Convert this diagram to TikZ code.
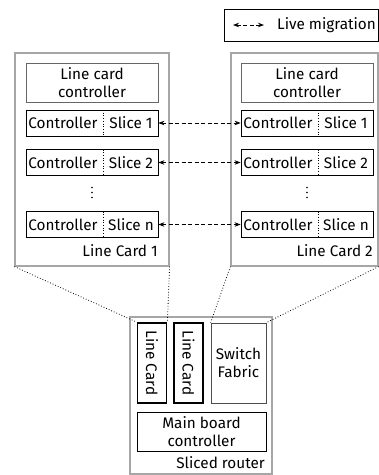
\documentclass[tikz,border=0pt]{standalone}
\usepackage{fontspec}
\setmainfont{Fira Sans}
\usetikzlibrary{arrows.meta}

\tikzset{
  every node/.style={inner sep=0pt, align=center},
  cardbox/.style={draw=black!35, line width=1.2pt},
  ctrlbox/.style={draw=black!60, line width=0.8pt, minimum width=132pt, minimum height=39pt},
  rowbox/.style={draw, line width=0.8pt, minimum width=132pt, minimum height=26pt},
  divider/.style={dotted, line width=0.7pt},
  vcard/.style={draw, line width=1.8pt, rotate=-90, minimum width=80pt, minimum height=29pt},
  zoomline/.style={dotted, line width=0.8pt},
  migrate/.style={dash pattern=on 4pt off 2.5pt, line width=0.9pt, {Stealth[length=6pt,width=4.5pt]}-{Stealth[length=6pt,width=4.5pt]}}
}

\begin{document}
\begin{tikzpicture}[x=1pt, y=-1pt, font=\fontsize{15.3}{18}\selectfont]
    \useasboundingbox (0,0) rectangle (379,475);

    % Legend
    \node[draw, line width=0.8pt, minimum width=154pt, minimum height=32pt] (legend) at (301,25) {};
    \coordinate (lega) at (233,25);
    \coordinate (legb) at (264,25);
    \draw[migrate] (lega) -- (legb);
    \node[anchor=west] (legtxt) at (277,25) {Live migration};

    % Line card boxes
    \node[cardbox, minimum width=154pt, minimum height=213pt] (lc1) at (92,159.5) {};
    \node[cardbox, minimum width=147pt, minimum height=213pt] (lc2) at (304.5,159.5) {};

    \node[ctrlbox] (lcc1) at (92,82.5) {Line card\\controller};
    \node[ctrlbox] (lcc2) at (307,82.5) {Line card\\controller};

    % Controller / slice rows
    \foreach \c/\x in {1/26, 2/241} {
        \foreach \r/\y/\s in {a/123/1, b/162.5/2, c/224.5/n} {
            \node[rowbox] (row\c\r) at (\x+66,\y) {};
            \node (ctl\c\r) at (\x+37,\y) {Controller};
            \node (sl\c\r) at (\x+105,\y) {Slice \s};
            \draw[divider] (\x+77,\y-13) -- (\x+77,\y+13);
        }
        % vertical dots between the rows
        \foreach \d in {187.5,192.5,197.5}
            \fill (\x+66,\d) circle (0.9pt);
    }

    \node[anchor=east] (lc1lbl) at (158,251) {Line Card 1};
    \node[anchor=east] (lc2lbl) at (373,251) {Line Card 2};

    % Migration arrows
    \draw[migrate] (row1a) -- (row2a);
    \draw[migrate] (row1b) -- (row2b);
    \draw[migrate] (row1c) -- (row2c);

    % Sliced router
    \node[cardbox, minimum width=142pt, minimum height=157pt] (router) at (201,395.5) {};
    \node[vcard] (rc1) at (152,363) {Line Card};
    \node[vcard] (rc2) at (188.5,363) {Line Card};
    \node[draw=black!70, line width=0.8pt, minimum width=55pt, minimum height=80pt] (fabric) at (238.5,363) {Switch\\Fabric};
    \node[draw, line width=0.8pt, minimum width=129pt, minimum height=39pt] (mainctl) at (201.5,431.5) {Main board\\controller};
    \node[anchor=east] (rtlbl) at (265,463) {Sliced router};

    % Zoom lines
    \draw[zoomline] (lc1.south west) -- (rc1.south west);
    \draw[zoomline] (lc1.south east) -- (rc1.north west);
    \draw[zoomline] (lc2.south west) -- (fabric.north west);
    \draw[zoomline] (lc2.south east) -- (fabric.north east);
\end{tikzpicture}
\end{document}
